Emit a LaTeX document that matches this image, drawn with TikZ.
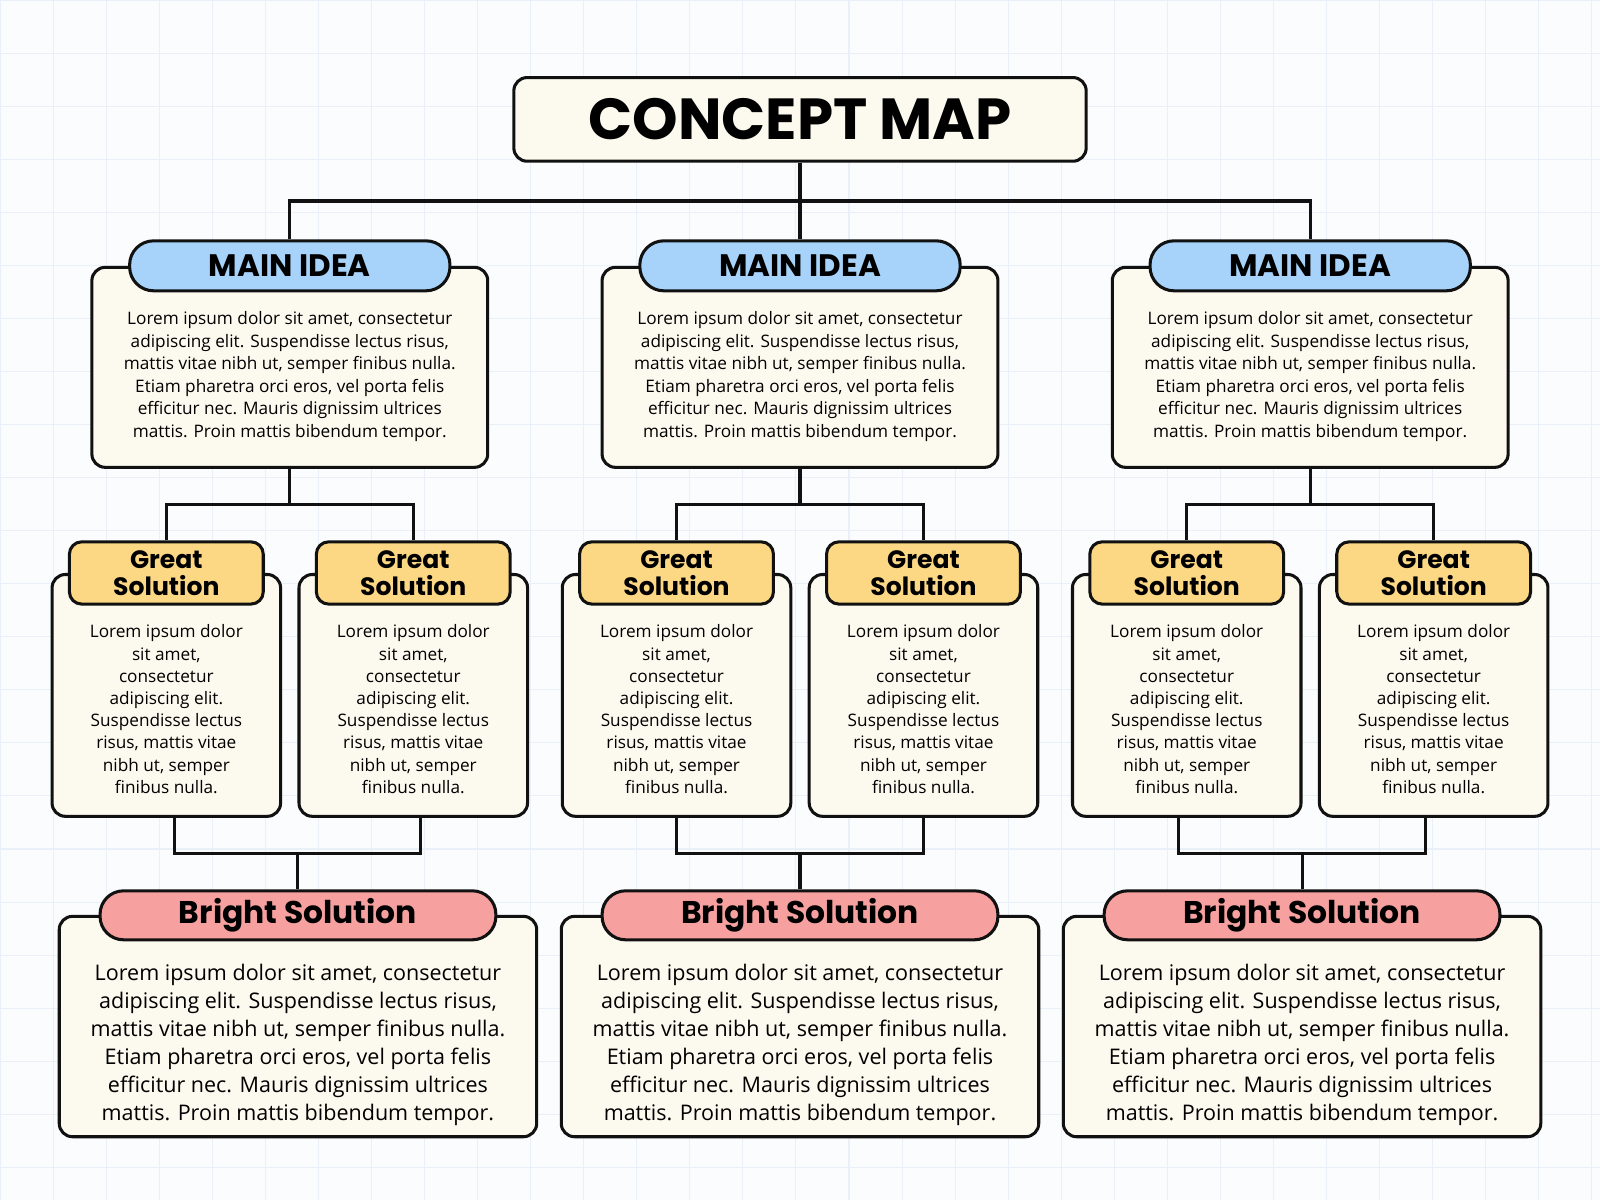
\documentclass[tikz,border=0pt]{standalone}
\usepackage{fontspec}
\setmainfont{Open Sans}
\newfontfamily\headfont{Poppins}[BoldFont=* Bold]
\definecolor{cream}{HTML}{FCF9EF}
\definecolor{ideablue}{HTML}{A7D3FA}
\definecolor{solyellow}{HTML}{FCD784}
\definecolor{brightpink}{HTML}{F6A1A0}
\definecolor{gridc}{HTML}{EAF0F7}
\definecolor{bgc}{HTML}{FBFCFE}
\definecolor{ink}{HTML}{111111}
\begin{document}
\begin{tikzpicture}[x=0.02cm,y=-0.02cm,
  lw/.style={line width=1.7pt, draw=ink},
  box/.style={lw, fill=cream, rounded corners=0.26cm, inner sep=0pt},
  conn/.style={lw},
  ideapill/.style={lw, fill=ideablue, rounded corners=0.47cm, minimum width=6.28cm, minimum height=0.98cm, inner sep=0pt, font=\headfont\bfseries\fontsize{17.3}{18}\selectfont},
  greatpill/.style={lw, fill=solyellow, rounded corners=0.24cm, minimum width=3.8cm, minimum height=1.22cm, inner sep=0pt, align=center, font=\headfont\bfseries\fontsize{14}{14.8}\selectfont},
  brightpill/.style={lw, fill=brightpink, rounded corners=0.46cm, minimum width=7.76cm, minimum height=0.96cm, inner sep=0pt, font=\headfont\bfseries\fontsize{17.5}{18}\selectfont},
  ideatext/.style={align=center, font=\fontsize{9.6}{12.5}\selectfont},
  greattext/.style={align=center, font=\fontsize{9.6}{12.4}\selectfont},
  brighttext/.style={align=center, font=\fontsize{12}{15.6}\selectfont},
]
\useasboundingbox (0,0) rectangle (1568,1176);
\fill[bgc] (0,0) rectangle (1568,1176);
\foreach \gx in {0,52,...,1568} \draw[gridc, line width=0.6pt] (\gx,0) -- (\gx,1176);
\foreach \gy in {0,52,...,1176} \draw[gridc, line width=0.6pt] (0,\gy) -- (1568,\gy);

% title
\node[box, fill=cream, minimum width=11.22cm, minimum height=1.64cm, font=\headfont\bfseries\fontsize{32.3}{34}\selectfont] (title) at (784,117) {CONCEPT MAP};

\newcommand{\ideatxt}{Lorem ipsum dolor sit amet, consectetur\\adipiscing elit. Suspendisse lectus risus,\\mattis vitae nibh ut, semper finibus nulla.\\Etiam pharetra orci eros, vel porta felis\\efficitur nec. Mauris dignissim ultrices\\mattis. Proin mattis bibendum tempor.}
\newcommand{\greattxt}{Lorem ipsum dolor\\sit amet,\\consectetur\\adipiscing elit.\\Suspendisse lectus\\risus, mattis vitae\\nibh ut, semper\\finibus nulla.}

\foreach \c/\n in {284/a,784/b,1284/c}{
  \coordinate (top\n) at (\c,197);
  \node[box, minimum width=7.76cm, minimum height=3.92cm] (ibox\n) at (\c,360) {};
  \node[ideatext] (itxt\n) at (\c,369) {\ideatxt};
  \node[ideapill] (ipill\n) at (\c,260.5) {MAIN IDEA};
}
\draw[conn] (title.south) -- (topb);
\draw[conn] (ipilla.north) |- (topb) -| (ipillc.north);
\draw[conn] (topb) -- (ipillb.north);

% great solutions
\foreach \c/\n in {163/a1,405/a2,663/b1,905/b2,1163/c1,1405/c2}{
  \node[box, minimum width=4.48cm, minimum height=4.74cm] (gbox\n) at (\c+0,681.5) {};
  \node[greattext] (gtxt\n) at (\c,695) {\greattxt};
  \node[greatpill] (gpill\n) at (\c,561.5) {Great\\Solution};
}
\foreach \n in {a,b,c}{
  \coordinate (mid\n) at (ibox\n.south |- 0,494);
  \draw[conn] (ibox\n.south) -- (mid\n);
  \draw[conn] (gpill\n1.north) |- (mid\n) -| (gpill\n2.north);
}

% bright solutions
\newcommand{\brighttxt}{Lorem ipsum dolor sit amet, consectetur\\adipiscing elit. Suspendisse lectus risus,\\mattis vitae nibh ut, semper finibus nulla.\\Etiam pharetra orci eros, vel porta felis\\efficitur nec. Mauris dignissim ultrices\\mattis. Proin mattis bibendum tempor.}
\foreach \c/\n in {292/a,784/b,1276/c}{
  \node[box, minimum width=9.36cm, minimum height=4.32cm] (bbox\n) at (\c,1006) {};
  \node[brighttext] (btxt\n) at (\c,1024) {\brighttxt};
  \node[brightpill] (bpill\n) at (\c,897) {Bright Solution};
  \coordinate (bj\n) at (\c,836);
}
\foreach \n/\l/\r in {a/171/412,b/663/905,c/1155/1397}{
  \coordinate (bl\n) at (\l,800);
  \coordinate (br\n) at (\r,800);
  \draw[conn] (bl\n) |- (bj\n) -| (br\n);
  \draw[conn] (bj\n) -- (bpill\n.north);
}
\end{tikzpicture}
\end{document}
